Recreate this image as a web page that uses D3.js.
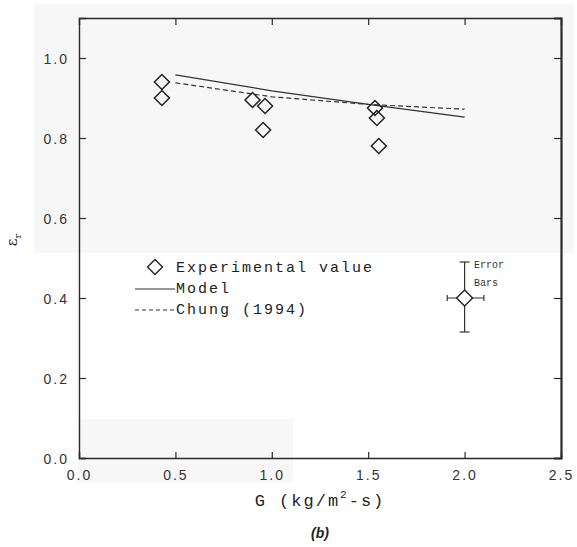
<!DOCTYPE html>
<html>
<head>
<meta charset="utf-8">
<script src="https://cdn.jsdelivr.net/npm/d3@7"></script>
<style>
  html, body { margin: 0; padding: 0; background: #fff; }
  svg { display: block; }
</style>
</head>
<body>
<svg id="chart" width="577" height="547"></svg>
<script>
// Mass flux G (kg/m^2-s) and measured values
const expG = [0.43, 0.43, 0.90, 0.965, 0.955, 1.535, 1.545, 1.555];
const expE = [0.94, 0.90, 0.895, 0.88, 0.82, 0.875, 0.85, 0.78];

// Model prediction
const modelG = [0.5, 1.0, 1.5, 2.0];
const modelE = [0.958, 0.918, 0.884, 0.852];

// Chung (1994) correlation
const chungG = [0.5, 1.0, 1.5, 2.0];
const chungE = [0.938, 0.903, 0.884, 0.872];

// Representative error bar
const errG = [2.0], errE = [0.4];
const errGLo = [1.91], errGHi = [2.1];
const errELo = [0.315], errEHi = [0.49];

const xTicks = [0.0, 0.5, 1.0, 1.5, 2.0, 2.5];
const yTicks = [0.0, 0.2, 0.4, 0.6, 0.8, 1.0];

const legendItems = ["Experimental value", "Model", "Chung (1994)"];

const svg = d3.select("#chart");
const m = { left: 79, right: 561, top: 18, bottom: 458 };

const x = d3.scaleLinear().domain([0, 2.5]).range([m.left, m.right]);
const y = d3.scaleLinear().domain([0, 1.1]).range([m.bottom, m.top]);

const ink = "#2a2a2a";
const tickFont = "'Liberation Sans', Arial, sans-serif";
const monoFont = "'Liberation Mono', 'DejaVu Sans Mono', monospace";

// faint scan tone behind parts of the figure
svg.append("rect").attr("x", 34).attr("y", 4).attr("width", 540).attr("height", 249).attr("fill", "#f7f7f7");
svg.append("rect").attr("x", 78).attr("y", 419).attr("width", 215).attr("height", 64).attr("fill", "#f7f7f7");

// axes: ticks point inward on all four sides
const fmt = d3.format(".1f");
const axB = svg.append("g").attr("transform", `translate(0,${m.bottom})`)
  .call(d3.axisBottom(x).tickValues(xTicks).tickSize(-6).tickPadding(12).tickFormat(fmt));
const axT = svg.append("g").attr("transform", `translate(0,${m.top})`)
  .call(d3.axisTop(x).tickValues(xTicks.slice(1, 5)).tickSize(-7).tickFormat(""));
const axL = svg.append("g").attr("transform", `translate(${m.left},0)`)
  .call(d3.axisLeft(y).tickValues(yTicks).tickSize(-7).tickPadding(10).tickFormat(fmt));
const axR = svg.append("g").attr("transform", `translate(${m.right},0)`)
  .call(d3.axisRight(y).tickValues(yTicks.slice(1)).tickSize(-7).tickFormat(""));

[axB, axT, axL, axR].forEach(g => {
  g.select(".domain").attr("stroke", ink).attr("stroke-width", 1.4);
  g.selectAll(".tick line").attr("stroke", ink).attr("stroke-width", 1.2);
  g.selectAll("text").attr("fill", "#333").style("font-family", tickFont)
    .style("font-size", "14px").style("letter-spacing", "2px");
});
axL.selectAll(".tick text").attr("dy", "0.36em");
axR.select(".domain").attr("stroke-width", 2.2);

// prediction curves
const line = d3.line().x(d => x(d[0])).y(d => y(d[1]));
svg.append("path").datum(d3.zip(modelG, modelE)).attr("d", line)
  .attr("fill", "none").attr("stroke", "#333").attr("stroke-width", 1.3);
svg.append("path").datum(d3.zip(chungG, chungE)).attr("d", line)
  .attr("fill", "none").attr("stroke", "#333").attr("stroke-width", 1.2).attr("stroke-dasharray", "5,3");

// diamond marker
const diamond = r => `M0,${-r}L${r},0L0,${r}L${-r},0Z`;

svg.append("g").selectAll("path").data(d3.zip(expG, expE)).join("path")
  .attr("transform", d => `translate(${x(d[0])},${y(d[1])})`)
  .attr("d", diamond(7.5)).attr("fill", "none").attr("stroke", "#222").attr("stroke-width", 1.5);

// error bar sample
const eb = svg.append("g").attr("stroke", "#333").attr("stroke-width", 1.2).attr("fill", "none");
const ex = x(errG[0]), ey = y(errE[0]);
eb.append("line").attr("x1", ex).attr("x2", ex).attr("y1", y(errEHi[0])).attr("y2", y(errELo[0]));
eb.append("line").attr("x1", ex - 5).attr("x2", ex + 5).attr("y1", y(errEHi[0])).attr("y2", y(errEHi[0]));
eb.append("line").attr("x1", ex - 5).attr("x2", ex + 5).attr("y1", y(errELo[0])).attr("y2", y(errELo[0]));
eb.append("line").attr("x1", x(errGLo[0])).attr("x2", x(errGHi[0])).attr("y1", ey).attr("y2", ey);
eb.append("line").attr("x1", x(errGLo[0])).attr("x2", x(errGLo[0])).attr("y1", ey - 3).attr("y2", ey + 3);
eb.append("line").attr("x1", x(errGHi[0])).attr("x2", x(errGHi[0])).attr("y1", ey - 3).attr("y2", ey + 3);
svg.append("path").attr("transform", `translate(${ex},${ey})`).attr("d", diamond(8))
  .attr("fill", "#fff").attr("stroke", "#222").attr("stroke-width", 1.4);
svg.append("text").attr("x", 474).attr("y", 268).text("Error")
  .style("font-family", monoFont).style("font-size", "10px").attr("fill", "#333");
svg.append("text").attr("x", 474).attr("y", 286).text("Bars")
  .style("font-family", monoFont).style("font-size", "10px").attr("fill", "#333");

// legend
const lg = svg.append("g").style("font-family", monoFont).style("font-size", "15px")
  .style("letter-spacing", "2px").attr("fill", "#222");
lg.append("path").attr("transform", "translate(155,267)").attr("d", diamond(7.5))
  .attr("fill", "none").attr("stroke", "#222").attr("stroke-width", 1.4);
lg.append("text").attr("x", 176).attr("y", 272).text(legendItems[0]);
lg.append("line").attr("x1", 135).attr("x2", 175).attr("y1", 289).attr("y2", 289)
  .attr("stroke", "#333").attr("stroke-width", 1.2);
lg.append("text").attr("x", 176).attr("y", 293).text(legendItems[1]);
lg.append("line").attr("x1", 135).attr("x2", 175).attr("y1", 310).attr("y2", 310)
  .attr("stroke", "#333").attr("stroke-width", 1.2).attr("stroke-dasharray", "4,3");
lg.append("text").attr("x", 176).attr("y", 314).text(legendItems[2]);

// axis titles
const xt = svg.append("text").attr("x", 320).attr("y", 506).attr("text-anchor", "middle")
  .style("font-family", monoFont).style("font-size", "17px").style("letter-spacing", "2px").attr("fill", "#222");
xt.append("tspan").text("G (kg/m");
xt.append("tspan").attr("dy", -8).style("font-size", "11px").text("2");
xt.append("tspan").attr("dy", 8).text("-s)");

const yt = svg.append("text").attr("transform", "translate(17,240) rotate(-90)")
  .attr("text-anchor", "middle").style("font-family", "'DejaVu Serif', serif")
  .style("font-size", "15px").attr("fill", "#222");
yt.append("tspan").text("ε");
yt.append("tspan").attr("dy", 4).style("font-size", "10px").text("r");

svg.append("text").attr("x", 320).attr("y", 538).attr("text-anchor", "middle")
  .style("font-family", "'Liberation Sans', Arial, sans-serif").style("font-size", "14px")
  .style("font-weight", "bold").style("font-style", "italic").attr("fill", "#222").text("(b)");
</script>
</body>
</html>
